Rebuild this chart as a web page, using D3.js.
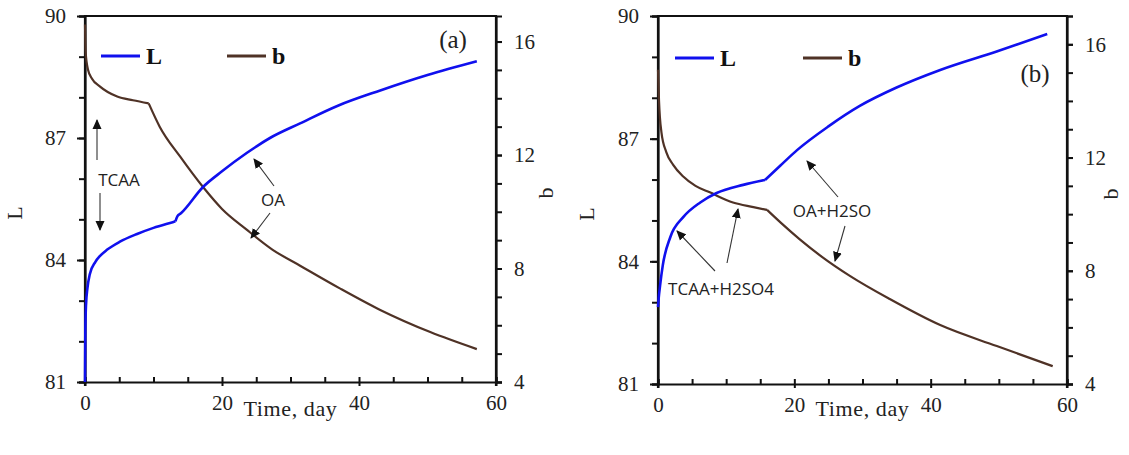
<!DOCTYPE html>
<html>
<head>
<meta charset="utf-8">
<script src="https://cdn.jsdelivr.net/npm/d3@7"></script>
<style>
  html, body { margin: 0; padding: 0; background: #fff; }
  svg { display: block; }
</style>
</head>
<body>
<svg id="chart" width="1129" height="455"></svg>
<script>
// ---- data ----------------------------------------------------------
const xTicks = [0, 20, 40, 60];
const lTicks = [81, 84, 87, 90];
const bTicks = [4, 8, 12, 16];

// panel (a): TCAA then OA
const dayLa = [0, 0.05, 0.15, 0.35, 0.7, 1.5, 2.2, 3.2, 5.1, 7.6, 10, 12.8, 13.2, 13.5, 14, 17.2, 20, 23.6, 27, 31.4, 37, 43.1, 50, 57.2];
const La    = [81.0, 82.3, 82.9, 83.3, 83.65, 83.95, 84.1, 84.25, 84.45, 84.64, 84.79, 84.93, 84.95, 85.08, 85.15, 85.79, 86.18, 86.63, 87.0, 87.36, 87.8, 88.17, 88.55, 88.89];
const dayBa = [0, 0.1, 0.45, 1, 2.2, 4.7, 7, 9.3, 10.9, 13.9, 17.2, 20, 23.6, 27.4, 31.4, 37.2, 43.1, 50.4, 57.2];
const Ba    = [16.6, 15.6, 15.0, 14.7, 14.41, 14.06, 13.93, 13.82, 13.0, 11.94, 10.88, 10.1, 9.37, 8.66, 8.1, 7.3, 6.54, 5.76, 5.16];
// day on which the treatment switches (curves change course there)
const switchLa = 13.2, switchBa = 9.3;

// panel (b): TCAA+H2SO4 then OA+H2SO4
const dayLb = [0, 0.1, 0.3, 0.7, 1.8, 3.7, 6.2, 8.6, 12.5, 15.7, 18, 20.4, 25, 29.6, 35, 41.4, 50, 57.1];
const Lb    = [82.88, 83.1, 83.4, 83.9, 84.59, 85.08, 85.44, 85.67, 85.87, 85.99, 86.35, 86.72, 87.3, 87.8, 88.25, 88.68, 89.15, 89.56];
const dayBb = [0, 0.15, 0.5, 1.2, 2.2, 3.7, 5.5, 7.6, 11, 14, 16, 18, 20.8, 24, 28.2, 34, 41.4, 49.7, 57.9];
const Bb    = [15.1, 14.0, 12.9, 12.2, 11.75, 11.33, 11.0, 10.77, 10.41, 10.25, 10.15, 9.7, 9.11, 8.5, 7.81, 7.0, 6.08, 5.34, 4.63];
const switchLb = 15.7, switchBb = 16;

const seriesNames = ["L", "b"];
const colorL = "#1010ee";
const colorB = "#4f3226";

// ---- layout ----------------------------------------------------------
const panels = [
  {
    tag: "(a)", left: 85, right: 496, top: 16, bottom: 382, bMax: 16.9,
    dayL: dayLa, L: La, dayB: dayBa, B: Ba, kL: switchLa, kB: switchBa,
    tagPos: [453, 48],
    legend: { lx: 101, bx: 227, y: 56 },
    yLabelX: 22, bLabelX: 553,
    notes: [
      { text: "TCAA", x: 119, y: 186, arrows: [[97, 160, 97, 120], [100, 193, 100, 230]] },
      { text: "OA", x: 273, y: 206, arrows: [[274, 186, 254, 159], [270, 213, 251, 238]] }
    ]
  },
  {
    tag: "(b)", left: 658, right: 1067, top: 16, bottom: 384, bMax: 17,
    dayL: dayLb, L: Lb, dayB: dayBb, B: Bb, kL: switchLb, kB: switchBb,
    tagPos: [1035, 82],
    legend: { lx: 675, bx: 803, y: 58 },
    yLabelX: 594, bLabelX: 1118,
    notes: [
      { text: "TCAA+H2SO4", x: 721, y: 295, arrows: [[715, 271, 677, 231], [727, 263, 738, 209]] },
      { text: "OA+H2SO", x: 832, y: 217, arrows: [[838, 197, 807, 161], [845, 226, 835, 261]] }
    ]
  }
];

const svg = d3.select("#chart");
const defs = svg.append("defs");
defs.append("marker")
  .attr("id", "head")
  .attr("viewBox", "0 0 10 10")
  .attr("refX", 9).attr("refY", 5)
  .attr("markerWidth", 10).attr("markerHeight", 10)
  .attr("markerUnits", "userSpaceOnUse")
  .attr("orient", "auto")
  .append("path").attr("d", "M0,0.5 L10,5 L0,9.5 Z").attr("fill", "#111");

const serif = "'Liberation Serif', 'Times New Roman', serif";
const sans = "'Open Sans', 'Noto Sans', sans-serif";

// split a series at the switch day so each treatment is a smooth piece
function pieces(days, vals, k) {
  const pts = days.map((d, i) => [d, vals[i]]);
  return [pts.filter(p => p[0] <= k), pts.filter(p => p[0] >= k)];
}

panels.forEach(p => {
  const g = svg.append("g");
  const x = d3.scaleLinear().domain([0, 60]).range([p.left, p.right]);
  const yL = d3.scaleLinear().domain([81, 90]).range([p.bottom, p.top]);
  const yB = d3.scaleLinear().domain([4, p.bMax]).range([p.bottom, p.top]);

  // frame line on top
  g.append("line")
    .attr("x1", p.left).attr("x2", p.right)
    .attr("y1", p.top).attr("y2", p.top)
    .attr("stroke", "#111").attr("stroke-width", 2.2);

  // x axis: ticks every 5 days pointing into the plot, labels every 20
  g.append("g").attr("transform", `translate(0,${p.bottom})`)
    .call(d3.axisBottom(x).tickValues(d3.range(0, 61, 5)).tickSize(-5).tickFormat(""));
  g.append("g").attr("transform", `translate(0,${p.bottom})`)
    .call(d3.axisBottom(x).tickValues(xTicks).tickSize(4).tickPadding(9).tickFormat(d3.format("d")))
    .call(a => a.select(".domain").remove())
    .selectAll("text").attr("font-family", serif).attr("font-size", 21).attr("fill", "#222");

  // left L axis: minor ticks every unit, labels every 3
  g.append("g").attr("transform", `translate(${p.left},0)`)
    .call(d3.axisLeft(yL).tickValues(d3.range(81, 91, 1)).tickSize(6).tickFormat(""));
  g.append("g").attr("transform", `translate(${p.left},0)`)
    .call(d3.axisLeft(yL).tickValues(lTicks).tickSize(8).tickPadding(11).tickFormat(d3.format("d")))
    .call(a => a.select(".domain").remove())
    .selectAll("text").attr("font-family", serif).attr("font-size", 21).attr("fill", "#222");

  // right b axis
  g.append("g").attr("transform", `translate(${p.right},0)`)
    .call(d3.axisRight(yB).tickValues(d3.range(4, Math.floor(p.bMax) + 1, 1)).tickSize(6).tickFormat(""));
  g.append("g").attr("transform", `translate(${p.right},0)`)
    .call(d3.axisRight(yB).tickValues(bTicks).tickSize(6).tickPadding(12).tickFormat(d3.format("d")))
    .call(a => a.select(".domain").remove())
    .selectAll("text").attr("font-family", serif).attr("font-size", 21).attr("fill", "#222");

  g.selectAll(".domain").attr("stroke", "#111").attr("stroke-width", 2.2);
  g.selectAll(".tick line").attr("stroke", "#111").attr("stroke-width", 2);

  // vertical axes run slightly below the x axis
  [p.left, p.right].forEach(xx => g.append("line")
    .attr("x1", xx).attr("x2", xx).attr("y1", p.top - 1).attr("y2", p.bottom + 4)
    .attr("stroke", "#111").attr("stroke-width", 2.2));

  // axis titles
  g.append("text").attr("x", (p.left + p.right) / 2).attr("y", 416)
    .attr("text-anchor", "middle").attr("font-family", serif).attr("font-size", 22)
    .attr("letter-spacing", 0.6).attr("fill", "#222")
    .text("Time, day");
  g.append("text").attr("transform", `translate(${p.yLabelX},${(p.top + p.bottom) / 2 + 14}) rotate(-90)`)
    .attr("text-anchor", "middle").attr("font-family", serif).attr("font-size", 22).attr("fill", "#222")
    .text("L");
  g.append("text").attr("transform", `translate(${p.bLabelX},${(p.top + p.bottom) / 2 - 6}) rotate(-90)`)
    .attr("text-anchor", "middle").attr("font-family", serif).attr("font-size", 22).attr("fill", "#222")
    .text("b");

  // curves
  const lineL = d3.line().x(d => x(d[0])).y(d => yL(d[1])).curve(d3.curveMonotoneX);
  const lineB = d3.line().x(d => x(d[0])).y(d => yB(d[1])).curve(d3.curveMonotoneX);
  pieces(p.dayB, p.B, p.kB).forEach(seg => g.append("path").attr("d", lineB(seg))
    .attr("fill", "none").attr("stroke", colorB).attr("stroke-width", 2.2).attr("stroke-linejoin", "round"));
  pieces(p.dayL, p.L, p.kL).forEach(seg => g.append("path").attr("d", lineL(seg))
    .attr("fill", "none").attr("stroke", colorL).attr("stroke-width", 2.6).attr("stroke-linejoin", "round"));

  // legend
  const lg = g.append("g");
  [[p.legend.lx, colorL, seriesNames[0]], [p.legend.bx, colorB, seriesNames[1]]].forEach(([lx, c, name]) => {
    lg.append("line").attr("x1", lx).attr("x2", lx + 39).attr("y1", p.legend.y).attr("y2", p.legend.y)
      .attr("stroke", c).attr("stroke-width", 3);
    lg.append("text").attr("x", lx + 45).attr("y", p.legend.y + 8)
      .attr("font-family", serif).attr("font-weight", "bold").attr("font-size", 24).attr("fill", "#111")
      .text(name);
  });

  // panel tag
  g.append("text").attr("x", p.tagPos[0]).attr("y", p.tagPos[1]).attr("text-anchor", "middle")
    .attr("font-family", serif).attr("font-size", 25).attr("fill", "#222").text(p.tag);

  // annotations
  p.notes.forEach(n => {
    g.append("text").attr("x", n.x).attr("y", n.y).attr("text-anchor", "middle")
      .attr("font-family", sans).attr("font-size", 17).attr("fill", "#222").text(n.text);
    n.arrows.forEach(a => g.append("line")
      .attr("x1", a[0]).attr("y1", a[1]).attr("x2", a[2]).attr("y2", a[3])
      .attr("stroke", "#333").attr("stroke-width", 1.1).attr("marker-end", "url(#head)"));
  });
});
</script>
</body>
</html>
